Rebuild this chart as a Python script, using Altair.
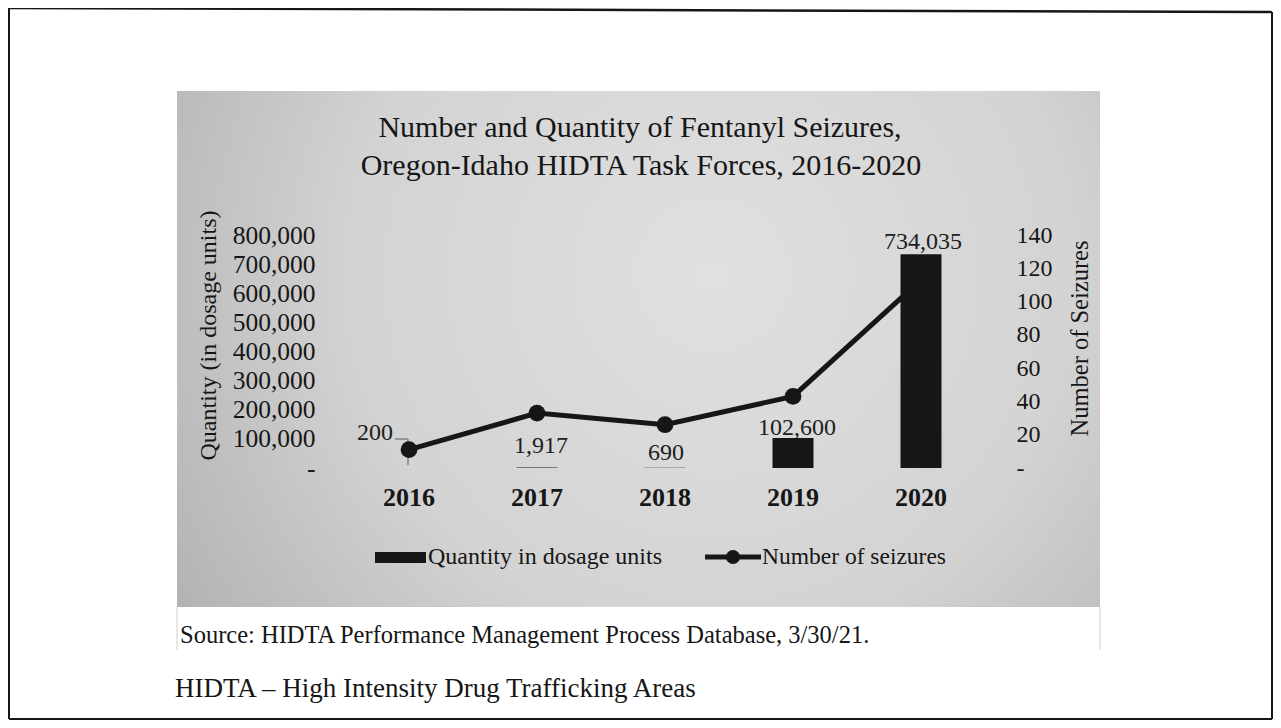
import altair as alt
import pandas as pd

# ---------------- data ----------------
years = ["2016", "2017", "2018", "2019", "2020"]
quantity = [200, 1917, 690, 102600, 734035]
seizures = [11, 33, 26, 43, 113]
quantity_labels = ["200", "1,917", "690", "102,600", "734,035"]

left_ticks = [0, 100000, 200000, 300000, 400000, 500000, 600000, 700000, 800000]
right_ticks = [0, 20, 40, 60, 80, 100, 120, 140]

title_lines = ["Number and Quantity of Fentanyl Seizures,",
               "Oregon-Idaho HIDTA Task Forces, 2016-2020"]
left_title = "Quantity (in dosage units)"
right_title = "Number of Seizures"
legend_labels = ["Quantity in dosage units", "Number of seizures"]
source_text = "Source: HIDTA Performance Management Process Database, 3/30/21."
footnote_text = "HIDTA \u2013 High Intensity Drug Trafficking Areas"

# label nudges (style, in pixels) for the data labels
label_dx = [-34, 4, 1, 4, 2]
label_dy = [-35, -21, -15, -10, -12]

df = pd.DataFrame({"year": years, "quantity": quantity, "seizures": seizures,
                   "qlabel": quantity_labels})
one = pd.DataFrame({"k": [0]})

FONT = "Liberation Serif"
INK = "#161616"
OX, OY = 345, 235  # page position of plot origin


def px(x):
    return x - OX


def py(y):
    return y - OY


x_axis = alt.Axis(title=None, labelAngle=0, domain=False, ticks=False,
                  labelFont=FONT, labelFontSize=26, labelFontWeight="bold",
                  labelColor=INK, labelPadding=16, zindex=2)
x_enc = alt.X("year:N", sort=years, axis=x_axis,
              scale=alt.Scale(paddingInner=0, paddingOuter=0))

# ---------------- decorations ----------------
panel = alt.Chart(one).mark_rect(
    fill={"gradient": "radial", "x1": 0.58, "y1": 0.42, "r1": 0,
          "x2": 0.58, "y2": 0.42, "r2": 0.78,
          "stops": [{"offset": 0, "color": "#e0e0e0"},
                    {"offset": 0.5, "color": "#d3d3d3"},
                    {"offset": 1, "color": "#a8a8a8"}]}
).encode(x=alt.value(px(177)), x2=alt.value(px(1100)),
         y=alt.value(py(91)), y2=alt.value(py(607)))


def rule(x1, y1, x2, y2, color=INK, w=2.0):
    return alt.Chart(one).mark_rule(color=color, strokeWidth=w).encode(
        x=alt.value(px(x1)), y=alt.value(py(y1)),
        x2=alt.value(px(x2)), y2=alt.value(py(y2)))


def text(t, x, y, size, align="left", weight="normal", color=INK):
    return alt.Chart(one).mark_text(
        text=t, font=FONT, fontSize=size, align=align, baseline="middle",
        fontWeight=weight, color=color
    ).encode(x=alt.value(px(x)), y=alt.value(py(y)))


borders = [
    rule(9, 8, 1272, 12, w=2.5),
    rule(9, 8, 9, 719),
    rule(1272, 12, 1272, 719),
    rule(9, 719, 1272, 719),
    rule(177, 607, 177, 650, color="#cfcfcf", w=1),
    rule(1100, 607, 1100, 650, color="#cfcfcf", w=1),
]

titles = [
    text(title_lines[0], 640, 128, 30, align="center"),
    text(title_lines[1], 641, 166, 30, align="center"),
]

leader = [
    rule(395, 439, 408, 439, color="#707070", w=1.2),
    rule(408, 439, 408, 465, color="#707070", w=1.2),
]

legend = [
    alt.Chart(one).mark_rect(color=INK).encode(
        x=alt.value(px(375)), x2=alt.value(px(426)),
        y=alt.value(py(552)), y2=alt.value(py(563))),
    text(legend_labels[0], 428, 557, 24),
    rule(705, 557, 761, 557, w=5),
    alt.Chart(one).mark_point(filled=True, size=200, color=INK, opacity=1).encode(
        x=alt.value(px(733)), y=alt.value(py(557))),
    text(legend_labels[1], 762, 557, 23.5),
]

notes = [
    text(source_text, 180, 636, 24.5),
    text(footnote_text, 175, 689, 27),
]

# ---------------- data layers ----------------
left_axis = alt.Axis(values=left_ticks, domain=False, ticks=False, grid=False,
                     labelFont=FONT, labelFontSize=25.5, labelColor=INK,
                     labelPadding=30, labelFlush=False, labelOverlap=False,
                     labelExpr="datum.value == 0 ? '-\u2002' : format(datum.value, ',')",
                     title=left_title, titleFont=FONT, titleFontSize=24,
                     titleFontWeight="normal", titleColor=INK,
                     titleX=-137, titleY=100, titleAngle=270,
                     titleAlign="center", titleBaseline="middle", zindex=2)
right_axis = alt.Axis(values=right_ticks, orient="right", domain=False,
                      ticks=False, grid=False, labelFont=FONT, labelFontSize=24,
                      labelColor=INK, labelPadding=31, labelFlush=False,
                      labelOverlap=False,
                      labelExpr="datum.value == 0 ? '-' : datum.label",
                      title=right_title, titleFont=FONT, titleFontSize=24.5,
                      titleFontWeight="normal", titleColor=INK,
                      titleX=95, titleY=103, titleAngle=270,
                      titleAlign="center", titleBaseline="middle", zindex=2)

yq = alt.Y("quantity:Q", axis=left_axis,
           scale=alt.Scale(domain=[0, 800000], nice=False, zero=True))
ys = alt.Y("seizures:Q", axis=right_axis,
           scale=alt.Scale(domain=[0, 140], nice=False, zero=True))

bars = alt.Chart(df).mark_bar(size=41, color=INK).encode(x=x_enc, y=yq)

label_layers = []
for yr, dx, dy in zip(years, label_dx, label_dy):
    label_layers.append(
        alt.Chart(df).transform_filter(alt.datum.year == yr).mark_text(
            font=FONT, fontSize=24, color="#202020", dx=dx, dy=dy,
            align="center", baseline="middle"
        ).encode(x=x_enc, y=yq, text="qlabel:N"))

left_group = alt.layer(bars, *label_layers)

line = alt.Chart(df).mark_line(color=INK, strokeWidth=5).encode(x=x_enc, y=ys)
points = alt.Chart(df).mark_point(filled=True, size=280, color=INK,
                                  opacity=1).encode(x=x_enc, y=ys)
right_group = alt.layer(line, points)

chart = alt.layer(
    panel, *borders, *titles, left_group, *leader, right_group, *legend, *notes
).resolve_scale(y="independent").properties(
    width=640, height=233,
    padding={"left": 337, "top": 227, "right": 288, "bottom": 252},
    autosize=alt.AutoSizeParams(type="none"),
    background="white",
).configure_view(stroke=None)

chart.save("out.html", embed_options={"renderer": "svg", "actions": False})
